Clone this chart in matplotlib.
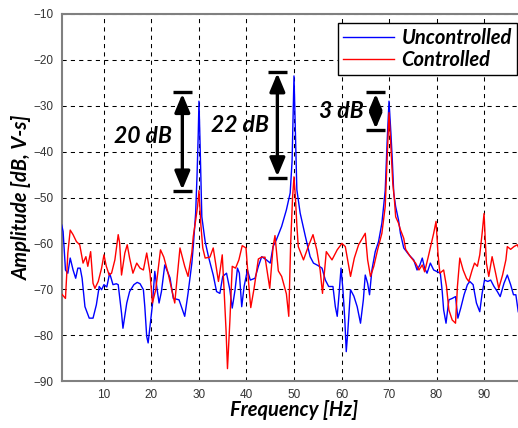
import matplotlib
matplotlib.use("Agg")
import matplotlib.pyplot as plt
import numpy as np

# ---------------- data ----------------
freq_unc = [1.1, 1.4, 1.9, 2.4, 2.9, 3.5, 4.05, 4.5, 5.0, 5.4, 6.0, 6.9, 7.7, 8.4, 9.0, 9.5,
            10.0, 10.6, 11.2, 11.9, 12.6, 13.0, 13.7, 14.0, 14.8, 15.4, 16.3, 17.0, 17.6, 18.3,
            18.6, 19.0, 19.3, 19.7, 20.2, 20.7, 21.2, 21.6, 22.1, 22.8, 23.9, 24.6, 25.8, 27.0,
            27.7, 28.5, 28.8, 29.3, 29.6, 29.85, 30.0, 30.2, 30.4, 30.6, 31.3, 32.0, 33.0, 33.7,
            34.4, 35.0, 35.8, 36.5, 37.0, 37.6, 38.1, 38.5, 39.0, 39.5, 40.2, 40.8, 41.8, 42.5,
            43.2, 44.2, 45.0, 45.6, 46.3, 47.4, 48.4, 49.2, 49.6, 50.0, 50.3, 50.6, 51.3, 52.4,
            53.4, 54.1, 55.0, 55.9, 56.6, 57.3, 58.2, 58.7, 59.1, 59.5, 59.9, 60.3, 60.7, 61.0,
            61.3, 61.9, 62.6, 63.3, 64.0, 64.6, 65.0, 65.5, 65.9, 66.4, 67.1, 67.8, 68.5, 69.2,
            69.6, 70.0, 70.4, 70.7, 71.0, 71.4, 72.0, 72.4, 73.1, 74.2, 75.2, 75.9, 76.5, 77.0,
            77.5, 78.0, 78.7, 79.4, 80.2, 80.8, 81.2, 81.5, 82.0, 82.6, 83.3, 84.0, 84.5, 85.1,
            85.8, 86.5, 87.0, 87.7, 88.4, 89.1, 89.6, 90.1, 90.8, 91.4, 92.1, 92.8, 93.4, 94.2,
            94.9, 95.6, 96.2, 96.7, 97.2]
amp_unc = [-56.0, -57.4, -65.8, -66.5, -63.2, -65.8, -67.6, -65.4, -65.4, -67.6, -73.8, -76.3,
           -76.3, -73.4, -69.4, -70.1, -69.0, -69.5, -66.5, -69.0, -68.8, -69.0, -75.2, -78.5,
           -73.0, -70.5, -69.0, -68.5, -68.8, -70.1, -73.8, -80.3, -81.7, -78.1, -73.4, -66.1,
           -70.1, -73.0, -70.5, -64.7, -67.5, -72.0, -72.3, -75.9, -70.9, -64.3, -60.7, -53.4,
           -45.0, -36.0, -29.0, -37.0, -46.0, -54.2, -59.6, -62.9, -66.9, -70.5, -70.9, -67.2,
           -66.5, -70.1, -74.1, -70.1, -65.4, -66.5, -73.8, -69.4, -65.8, -68.0, -67.6, -65.0,
           -62.9, -63.6, -64.3, -60.7, -59.2, -56.3, -52.7, -49.0, -42.0, -23.5, -36.0, -48.3,
           -53.4, -58.5, -62.9, -64.3, -64.8, -65.4, -68.0, -69.4, -69.4, -73.8, -75.9, -70.9,
           -65.4, -70.1, -76.7, -83.6, -79.6, -70.1, -71.5, -73.8, -77.4, -72.3, -66.9, -68.7,
           -71.2, -65.8, -61.8, -59.6, -55.6, -48.5, -38.0, -29.0, -36.0, -42.0, -49.1, -52.0,
           -54.9, -57.8, -61.0, -62.5, -63.6, -65.8, -64.7, -63.2, -65.4, -66.5, -64.3, -65.8,
           -66.2, -66.5, -70.5, -74.5, -77.4, -72.3, -72.0, -71.6, -76.3, -74.1, -71.2, -69.0,
           -68.3, -69.0, -73.0, -74.9, -70.9, -68.0, -68.3, -68.0, -69.4, -70.5, -71.6, -68.7,
           -66.9, -69.0, -71.2, -71.2, -74.9]

freq_ctl = [1.0, 1.9, 2.4, 2.9, 3.5, 4.2, 4.9, 5.6, 6.2, 6.6, 7.2, 7.7, 8.1, 8.8, 9.5, 10.0,
            10.5, 11.1, 11.6, 12.3, 13.0, 13.3, 13.7, 14.4, 14.9, 15.4, 16.1, 16.9, 17.6, 18.3,
            19.0, 19.7, 20.2, 20.9, 21.9, 22.6, 23.5, 24.2, 24.9, 26.0, 27.0, 27.7, 28.5, 28.8,
            29.3, 29.7, 30.0, 30.4, 30.8, 31.3, 32.3, 33.0, 33.6, 34.1, 34.5, 34.9, 35.3, 35.7,
            36.0, 36.5, 37.0, 37.7, 38.4, 39.1, 39.9, 40.4, 40.9, 41.6, 42.5, 43.2, 43.9, 44.9,
            45.6, 46.0, 46.7, 47.4, 48.4, 48.9, 49.3, 49.7, 50.0, 50.3, 50.6, 50.9, 52.0, 53.0,
            54.0, 54.8, 55.5, 56.0, 56.8, 58.0, 59.1, 60.1, 60.8, 61.9, 62.7, 63.6, 65.0, 65.5,
            66.1, 66.8, 67.6, 68.5, 69.2, 69.6, 70.0, 70.4, 70.8, 71.1, 71.4, 72.0, 72.4, 73.1,
            73.5, 74.5, 75.6, 76.3, 77.0, 77.5, 78.2, 78.9, 79.4, 79.9, 80.3, 80.7, 81.5, 82.1,
            82.6, 83.3, 84.0, 84.4, 84.9, 85.6, 86.3, 86.8, 87.5, 88.0, 88.6, 89.1, 89.6, 90.0,
            90.5, 91.0, 91.7, 92.3, 93.1, 93.9, 94.6, 94.9, 95.6, 96.3, 97.0, 97.3]
amp_ctl = [-70.9, -72.0, -62.1, -57.1, -58.1, -59.6, -60.3, -64.3, -62.9, -65.0, -61.8, -68.7,
           -69.8, -68.3, -65.4, -62.5, -65.0, -66.9, -66.5, -63.6, -58.1, -59.9, -66.9, -62.1,
           -60.3, -63.2, -66.5, -64.3, -65.4, -65.8, -62.1, -66.5, -73.0, -70.1, -61.4, -63.0,
           -66.5, -69.8, -73.0, -61.0, -65.0, -67.2, -62.0, -58.5, -55.0, -52.0, -48.5, -56.0,
           -61.0, -63.2, -63.0, -61.0, -65.0, -68.3, -65.5, -62.5, -70.5, -79.0, -87.3, -77.0,
           -65.0, -65.4, -63.6, -60.5, -61.0, -68.0, -74.0, -69.8, -63.4, -63.0, -63.0, -69.8,
           -60.7, -58.3, -66.0, -67.2, -71.0, -75.9, -60.0, -50.0, -45.5, -50.0, -56.0, -60.7,
           -63.6, -60.7, -58.1, -61.4, -65.8, -70.9, -61.8, -63.6, -61.4, -60.0, -60.7, -67.2,
           -63.2, -60.3, -57.8, -63.6, -67.2, -65.0, -61.4, -57.8, -52.0, -42.0, -31.5, -39.0,
           -47.0, -50.0, -54.2, -55.6, -57.0, -58.9, -61.3, -62.9, -64.3, -65.8, -64.7, -66.2,
           -63.2, -60.0, -57.8, -55.2, -62.1, -66.5, -65.8, -69.4, -74.5, -76.7, -77.4, -69.4,
           -63.2, -65.8, -67.6, -68.3, -65.8, -64.3, -65.0, -62.5, -57.8, -53.5, -64.3, -67.2,
           -62.9, -65.8, -69.8, -66.9, -63.6, -60.7, -61.3, -60.7, -60.3, -61.0]

series_labels = ["Uncontrolled", "Controlled"]
x_ticks = [10, 20, 30, 40, 50, 60, 70, 80, 90]
y_ticks = [-90, -80, -70, -60, -50, -40, -30, -20, -10]

# annotation arrows (frequency, top, bottom) and texts
arrow_freq = [26.5, 46.5, 67.2]
arrow_top = [-27.1, -22.6, -27.1]
arrow_bottom = [-48.6, -45.7, -35.3]
arrow_texts = ["20 dB", "22 dB", "3 dB"]
text_freq = [24.3, 44.8, 64.6]
text_amp = [-36.7, -34.2, -31.3]

# ---------------- figure ----------------
FONT = ["Lato", "DejaVu Sans"]
fig = plt.figure(figsize=(5.18, 4.28), dpi=100)
ax = fig.add_axes([62 / 518, 47 / 428, 456 / 518, 367 / 428])

ax.plot(freq_unc, amp_unc, color="#0000ff", lw=1.0, label=series_labels[0], zorder=3)
ax.plot(freq_ctl, amp_ctl, color="#ff0000", lw=1.0, label=series_labels[1], zorder=4)

ax.set_xlim(1.17, 97.15)
ax.set_ylim(-90, -10)
ax.set_xticks(x_ticks)
ax.set_yticks(y_ticks)
ax.tick_params(length=0, labelsize=8.5, labelcolor="#333333", pad=6)
for lab in ax.get_xticklabels() + ax.get_yticklabels():
    lab.set_family(["Liberation Sans"])

ax.grid(True, color="black", linestyle=(0, (4, 4)), lw=0.75, zorder=1)
for s in ["left", "top", "bottom"]:
    ax.spines[s].set_color("#808080")
    ax.spines[s].set_linewidth(1.5)
ax.spines["right"].set_visible(False)

ax.set_xlabel("Frequency [Hz]", fontsize=14.5, fontweight="bold", style="italic", family=FONT)
ax.set_ylabel("Amplitude [dB, V-s]", fontsize=14.5, fontweight="bold", style="italic", family=FONT)
ax.xaxis.set_label_coords(0.51, -0.052)
ax.yaxis.set_label_coords(-0.066, 0.5)

# arrows
head_scale = [20, 20, 16]
for f, t, b, ms in zip(arrow_freq, arrow_top, arrow_bottom, head_scale):
    ax.annotate("", xy=(f, t), xytext=(f, b),
                arrowprops=dict(arrowstyle="<|-|>,head_length=0.55,head_width=0.23",
                                color="black", lw=2.4, mutation_scale=ms,
                                shrinkA=1, shrinkB=1), zorder=6)
    ax.plot([f - 2.0, f + 2.0], [t, t], color="black", lw=2.4, solid_capstyle="butt", zorder=6)
    ax.plot([f - 2.0, f + 2.0], [b, b], color="black", lw=2.4, solid_capstyle="butt", zorder=6)

for txt, fx, fy in zip(arrow_texts, text_freq, text_amp):
    ax.text(fx, fy, txt, ha="right", va="center", fontsize=16.5, fontweight="bold",
            style="italic", family=FONT, zorder=7)

leg = ax.legend(loc="upper right", bbox_to_anchor=(0.998, 0.9755), borderaxespad=0,
                fancybox=False, frameon=True, framealpha=1, edgecolor="black",
                prop=dict(family=FONT, size=14.5, weight="bold", style="italic"),
                handlelength=2.5, labelspacing=0.1, borderpad=0.25, handletextpad=0.4)
leg.get_frame().set_linewidth(1.0)
leg.set_zorder(8)

fig.savefig("out.png", dpi=100)
